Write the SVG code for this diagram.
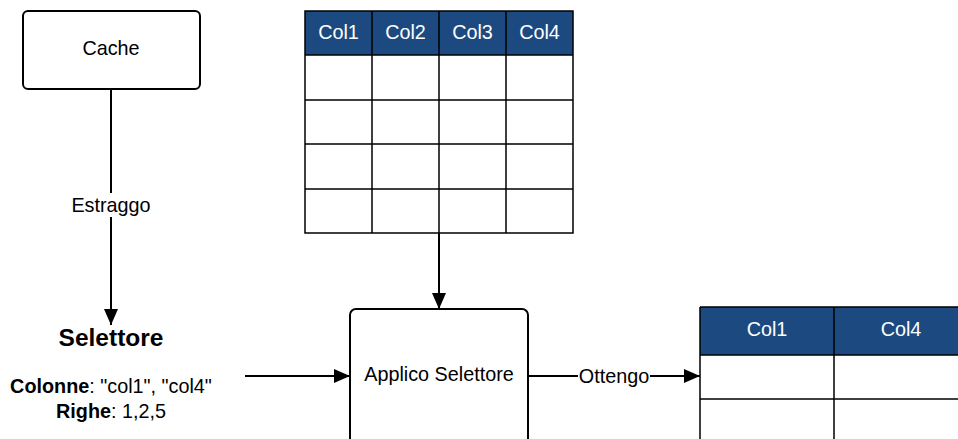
<svg xmlns="http://www.w3.org/2000/svg" width="958" height="439" viewBox="0 0 958 439">
<style>
text{font-family:"Liberation Sans",Arial,sans-serif;font-size:19.8px;fill:#000;text-anchor:middle;dominant-baseline:central}
.box{fill:#fff;stroke:#000;stroke-width:2}
.hdr{fill:#1c4a80}
.ht{fill:#fff}
.grid{fill:none;stroke:#000;stroke-width:1.5}
.conn{fill:none;stroke:#000;stroke-width:2}
.lbl{fill:#fff}
</style>
<defs>
<marker id="ah2" markerWidth="16" markerHeight="14" refX="16" refY="7" orient="auto" markerUnits="userSpaceOnUse" viewBox="0 0 16 14">
<path d="M0,0 L16,7 L0,14 z" fill="#000"/>
</marker>
</defs>
<rect width="958" height="439" fill="#fff"/>

<g id="connectors">
<line class="conn" x1="111" y1="89" x2="111" y2="325" marker-end="url(#ah2)"/>
<rect class="lbl" x="68" y="193" width="88" height="24"/>
<text x="111" y="205">Estraggo</text>
<line class="conn" x1="439" y1="233" x2="439" y2="309" marker-end="url(#ah2)"/>
<line class="conn" x1="245" y1="376" x2="350" y2="376" marker-end="url(#ah2)"/>
<line class="conn" x1="528" y1="376" x2="700" y2="376" marker-end="url(#ah2)"/>
<rect class="lbl" x="578" y="364" width="72" height="24"/>
<text x="614" y="376">Ottengo</text>
</g>

<g id="cache">
<rect class="box" x="23" y="11" width="177" height="78" rx="5"/>
<text x="111" y="48">Cache</text>
</g>

<g id="selettore">
<text x="111" y="337" style="font-weight:bold;font-size:24.5px">Selettore</text>
<text x="111" y="386"><tspan font-weight="bold">Colonne</tspan>: "col1", "col4"</text>
<text x="111" y="411"><tspan font-weight="bold">Righe</tspan>: 1,2,5</text>
</g>

<g id="table1">
<rect class="hdr" x="305" y="11" width="268" height="44"/>
<rect x="305" y="55" width="268" height="178" fill="#fff"/>
<path class="grid" d="M305,11H573V233H305Z M305,55H573 M305,100H573 M305,144H573 M305,189H573 M372,11V233 M439,11V233 M506,11V233"/>
<text class="ht" x="338.5" y="32">Col1</text>
<text class="ht" x="405.5" y="32">Col2</text>
<text class="ht" x="472.5" y="32">Col3</text>
<text class="ht" x="539.5" y="32">Col4</text>
</g>

<g id="applico">
<rect class="box" x="350" y="309" width="178" height="150" rx="6"/>
<text x="439" y="374">Applico Selettore</text>
</g>

<g id="table2">
<rect class="hdr" x="700" y="307" width="268" height="48"/>
<rect x="700" y="355" width="268" height="100" fill="#fff"/>
<path class="grid" d="M700,307H968 M700,307V460 M700,355H968 M700,399H968 M834,307V460"/>
<text class="ht" x="767" y="329">Col1</text>
<text class="ht" x="901" y="329">Col4</text>
</g>
</svg>
